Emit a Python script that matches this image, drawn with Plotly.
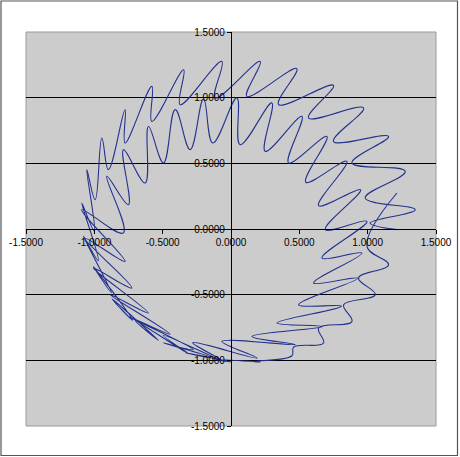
import plotly.graph_objects as go

# axis ticks
tick_vals = [-1.5, -1.0, -0.5, 0.0, 0.5, 1.0, 1.5]
tick_text = ["-1.5000", "-1.0000", "-0.5000", "0.0000", "0.5000", "1.0000", "1.5000"]

# curve (turning points of the wiggles),
# in drawing order: outer loop low right -> spikes low left -> inner ring over
# the top and down the right -> bottom band -> outer ring over the top
curve_x = [
    1.214, 0.995, 1.153, 0.933, 1.056, 0.824, 0.885, 0.641, 0.677, 0.458,
    0.446, 0.165, 0.215, -0.110, 0.000, -0.330, -0.150, -0.494, -0.275, -0.750,
    -0.445, -0.884, -0.604, -1.007, -0.725, -1.070, -0.775, -1.092, -0.787,
    -0.909, -0.750, -0.787, -0.628, -0.604, -0.494, -0.408, -0.299, -0.201, -0.133,
    0.043, 0.067, 0.299, 0.250, 0.519, 0.421, 0.702, 0.547, 0.848, 0.641,
    0.949, 0.690, 0.995, 0.665, 0.958, 0.604, 0.927, 0.494, 0.809, 0.336,
    0.669, 0.153, 0.470, -0.067, 0.190, -0.281, -0.070, -0.496, -0.309, -0.700,
    -0.530, -0.870, -0.719, -1.007, -0.875, -1.080, -0.970, -1.092, -1.000,
    -1.055, -0.994, -0.945, -0.897, -0.775, -0.775, -0.579, -0.579, -0.346, -0.372,
    -0.067, -0.116, 0.214, 0.116, 0.482, 0.348, 0.750, 0.567, 0.970, 0.750,
    1.153, 0.885, 1.275, 0.982, 1.348, 1.018, 1.214,
]
curve_y = [
    0.274, -0.133, -0.272, -0.373, -0.500, -0.577, -0.704, -0.754, -0.868, -0.899,
    -0.965, -1.008, -1.012, -0.994, -1.012, -0.944, -0.975, -0.868, -0.919, -0.666,
    -0.801, -0.500, -0.640, -0.297, -0.449, -0.070, -0.247, 0.147, -0.030,
    0.401, 0.185, 0.604, 0.350, 0.781, 0.503, 0.909, 0.604, 0.990, 0.655,
    0.998, 0.642, 0.960, 0.591, 0.858, 0.503, 0.705, 0.356, 0.515, 0.177,
    0.299, -0.005, 0.058, -0.221, -0.183, -0.411, -0.375, -0.577, -0.588, -0.716,
    -0.743, -0.818, -0.880, -0.856, -0.982, -0.865, -0.998, -0.810, -0.951, -0.700,
    -0.848, -0.533, -0.695, -0.285, -0.485, -0.056, -0.242, 0.198, -0.017,
    0.452, 0.223, 0.693, 0.452, 0.909, 0.655, 1.086, 0.819, 1.213, 0.947,
    1.276, 0.998, 1.276, 1.010, 1.221, 0.947, 1.094, 0.845, 0.922, 0.667,
    0.705, 0.503, 0.439, 0.236, 0.147, 0.046, -0.005,
]

W, H = 460, 457
L, R, T, B = 26, 24, 32, 31
pw, ph = W - L - R, H - T - B

fig = go.Figure()
fig.add_trace(go.Scatter(x=curve_x, y=curve_y, mode="lines",
                         line=dict(color="#22318f", width=1.1, shape="spline", smoothing=1.15),
                         showlegend=False, hoverinfo="skip"))

axis_font = dict(family="Liberation Sans, Arial, sans-serif", size=10, color="black")
common = dict(range=[-1.5, 1.5], tickvals=tick_vals, ticktext=tick_text,
              zeroline=False, showline=True, linecolor="black", linewidth=1.3,
              anchor="free", position=0.5, ticks="outside", ticklen=4,
              tickcolor="black", tickwidth=1, tickfont=axis_font,
              automargin=False, fixedrange=True)
fig.update_xaxes(showgrid=False, **common)
fig.update_yaxes(showgrid=True, gridcolor="black", gridwidth=1.3, **common)

# thin frame round the plot area and the outer chart border
fig.add_shape(type="rect", xref="paper", yref="paper", x0=0, x1=1, y0=0, y1=1,
              line=dict(color="#9a9a9a", width=1), layer="below")
fig.add_shape(type="rect", xref="paper", yref="paper",
              x0=(1 - L) / pw, x1=(457.5 - L) / pw,
              y0=(H - B - 455.5) / ph, y1=(H - B - 1) / ph,
              line=dict(color="#555555", width=1.2))

fig.update_layout(width=W, height=H, margin=dict(l=L, r=R, t=T, b=B),
                  plot_bgcolor="#cccccc", paper_bgcolor="white")
fig.write_html("out.html", config={"displayModeBar": False},
               post_script="document.body.style.margin='0px';")
